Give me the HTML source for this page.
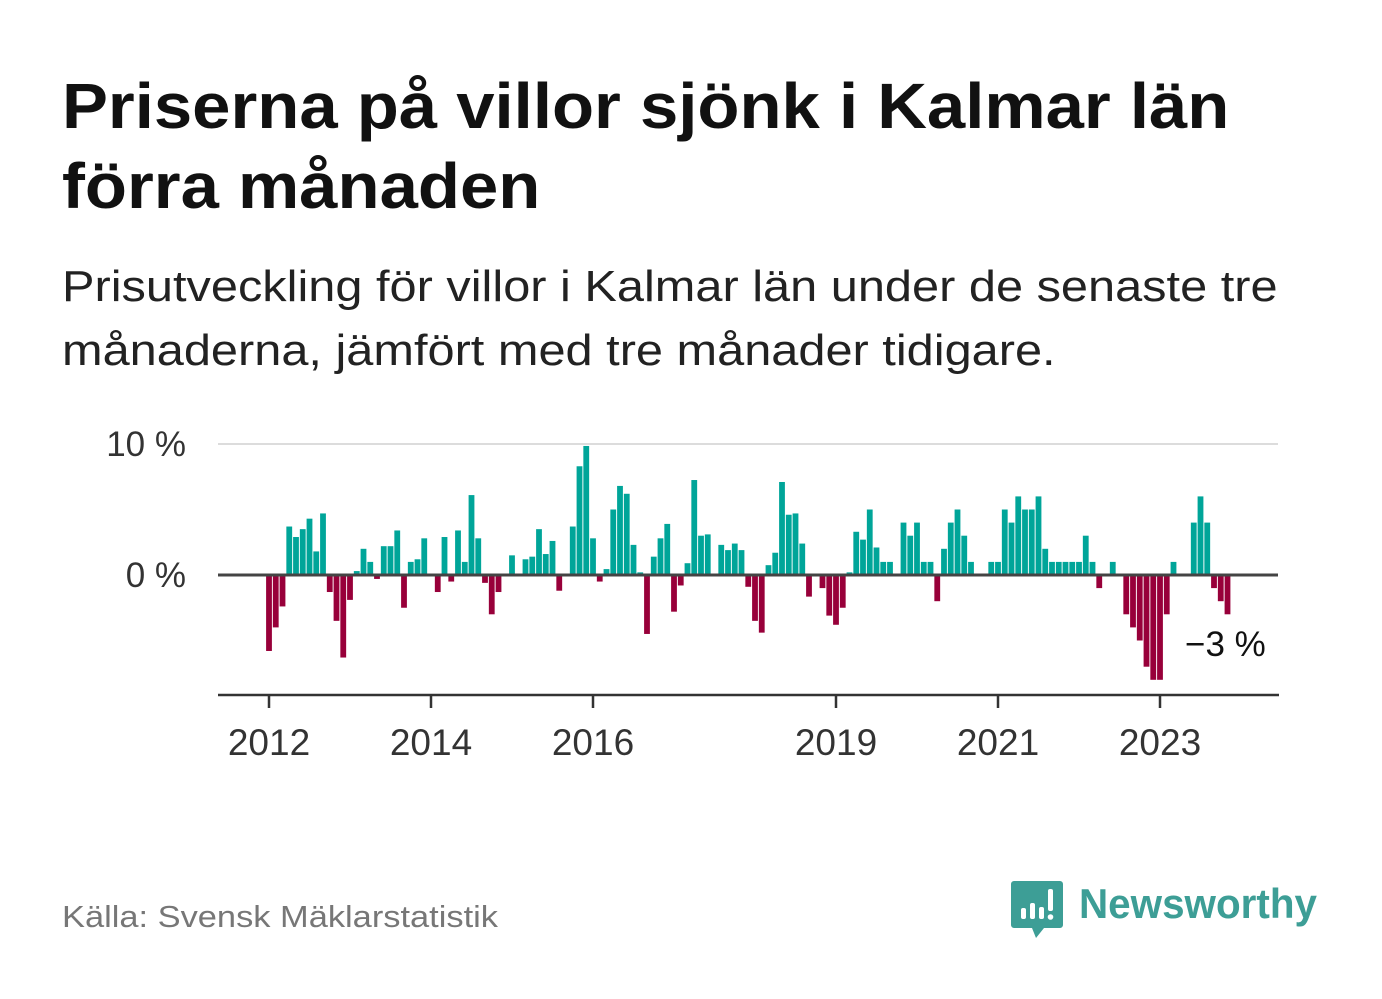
<!DOCTYPE html>
<html><head><meta charset="utf-8"><style>
html,body{margin:0;padding:0;background:#fff;}
body{width:1382px;height:999px;position:relative;overflow:hidden;font-family:"Liberation Sans","DejaVu Sans",sans-serif;}
#title{position:absolute;left:62px;top:66px;font-size:64px;font-weight:bold;line-height:80px;color:#111;margin:0;transform:scaleX(1.076);transform-origin:0 0;white-space:nowrap;}
#subtitle{position:absolute;left:62px;top:255px;font-size:44px;line-height:64px;color:#222;margin:0;transform:scaleX(1.107);transform-origin:0 0;white-space:nowrap;}
#source{position:absolute;left:62px;top:899px;font-size:31px;color:#777;transform:scaleX(1.11);transform-origin:0 0;white-space:nowrap;}
#chart{position:absolute;left:0;top:0;}
</style></head><body>
<h1 id="title">Priserna på villor sjönk i Kalmar län<br>förra månaden</h1>
<p id="subtitle">Prisutveckling för villor i Kalmar län under de senaste tre<br>månaderna, jämfört med tre månader tidigare.</p>
<div id="source">Källa: Svensk Mäklarstatistik</div>
<svg id="chart" width="1382" height="999">
<g id="grid"></g><g id="bars"></g><g id="axes"></g>
<g>
<path d="M1014 881 h46 a3 3 0 0 1 3 3 v41 a3 3 0 0 1 -3 3 h-16 l-8 10 l-4 -10 h-18 a3 3 0 0 1 -3 -3 v-41 a3 3 0 0 1 3 -3z" fill="#3d9e96"/>
<rect x="1021" y="908" width="5" height="11" rx="2" fill="#fff"/>
<rect x="1030" y="903" width="5" height="16" rx="2" fill="#fff"/>
<rect x="1039" y="907" width="5" height="12" rx="2" fill="#fff"/>
<rect x="1048" y="889" width="5" height="22" rx="2" fill="#fff"/>
<circle cx="1050.5" cy="917" r="2.8" fill="#fff"/>
<text x="1079" y="918" font-size="42" font-weight="bold" fill="#3d9e96" font-family="Liberation Sans, sans-serif" textLength="238" lengthAdjust="spacingAndGlyphs">Newsworthy</text>
</g>
</svg>
<script>
const months = 143; // Jan 2012 .. Nov 2023
const values = [-5.8,-4.0,-2.4,3.7,2.9,3.5,4.3,1.8,4.7,-1.3,-3.5,-6.3,-1.9,0.3,2.0,1.0,-0.3,2.2,2.2,3.4,-2.5,1.0,1.2,2.8,0,-1.3,2.9,-0.5,3.4,1.0,6.1,2.8,-0.6,-3.0,-1.3,0,1.5,0,1.2,1.4,3.5,1.6,2.6,-1.2,0,3.7,8.3,9.85,2.8,-0.5,0.45,5.0,6.8,6.2,2.3,0.2,-4.5,1.4,2.8,3.9,-2.8,-0.8,0.9,7.25,3.0,3.1,0,2.3,1.9,2.4,1.9,-0.9,-3.5,-4.4,0.75,1.7,7.1,4.6,4.7,2.4,-1.65,0,-1.0,-3.1,-3.8,-2.5,0.2,3.3,2.7,5.0,2.1,1.0,1.0,0,4.0,3.0,4.0,1.0,1.0,-2.0,2.0,4.0,5.0,3.0,1.0,0,0,1.0,1.0,5.0,4.0,6.0,5.0,5.0,6.0,2.0,1,1,1,1,1,3.0,1,-1.0,0,1,0,-3.0,-4.0,-5.0,-7.0,-8.0,-8.0,-3.0,1.0,0,0,4,6,4,-1,-2,-3];
const yTicks = [0, 10];
const yTickLabels = ["0 %", "10 %"];
const xTickYears = [2012, 2014, 2016, 2019, 2021, 2023];
const lastLabel = "\u22123 %";

const NS = "http://www.w3.org/2000/svg";
const x0 = 269, pxPerMonth = 6.75, y0 = 575, pxPerPct = 13.1;
const xScale = i => x0 + i * pxPerMonth;
const yScale = v => y0 - v * pxPerPct;
function mk(tag, attrs, parent){const e=document.createElementNS(NS,tag);for(const k in attrs)e.setAttribute(k,attrs[k]);parent.appendChild(e);return e;}
const grid=document.getElementById('grid'), bars=document.getElementById('bars'), axes=document.getElementById('axes');

yTicks.forEach((t,k)=>{
  if(t!==0){
    const l=mk('line',{x1:218,x2:1278,y1:yScale(t),y2:yScale(t),stroke:'#dcdcdc','stroke-width':2},grid);
    
    
  }
  const tx=mk('text',{x:186,y:yScale(t)+12,'text-anchor':'end','font-size':35,fill:'#333'},axes);
  tx.textContent=yTickLabels[k];
  
  
});

values.forEach((v,i)=>{
  if(v===0) return;
  const cx=xScale(i), w=5.8;
  const top=Math.min(yScale(v),y0), h=Math.abs(yScale(v)-y0);
  const r=mk('rect',{x:cx-w/2,y:top,width:w,height:h,fill:v>0?'#00a599':'#98003a'},bars);
  
  
});

const zl=mk('line',{x1:218,x2:1278,y1:y0,y2:y0,stroke:'#444','stroke-width':3},axes);


const xa=mk('line',{x1:218,x2:1279,y1:695,y2:695,stroke:'#333','stroke-width':2.5},axes);



xTickYears.forEach(yr=>{
  const x=xScale((yr-2012)*12);
  const tk=mk('line',{x1:x,x2:x,y1:695,y2:708,stroke:'#333','stroke-width':2.5},axes);
  
  
  const tx=mk('text',{x:x,y:755,'text-anchor':'middle','font-size':37,fill:'#333'},axes);
  tx.textContent=yr;
  
  
});

const ll=mk('text',{x:1185,y:656,'font-size':35,fill:'#111'},axes);
ll.textContent=lastLabel;


</script>
</body></html>
